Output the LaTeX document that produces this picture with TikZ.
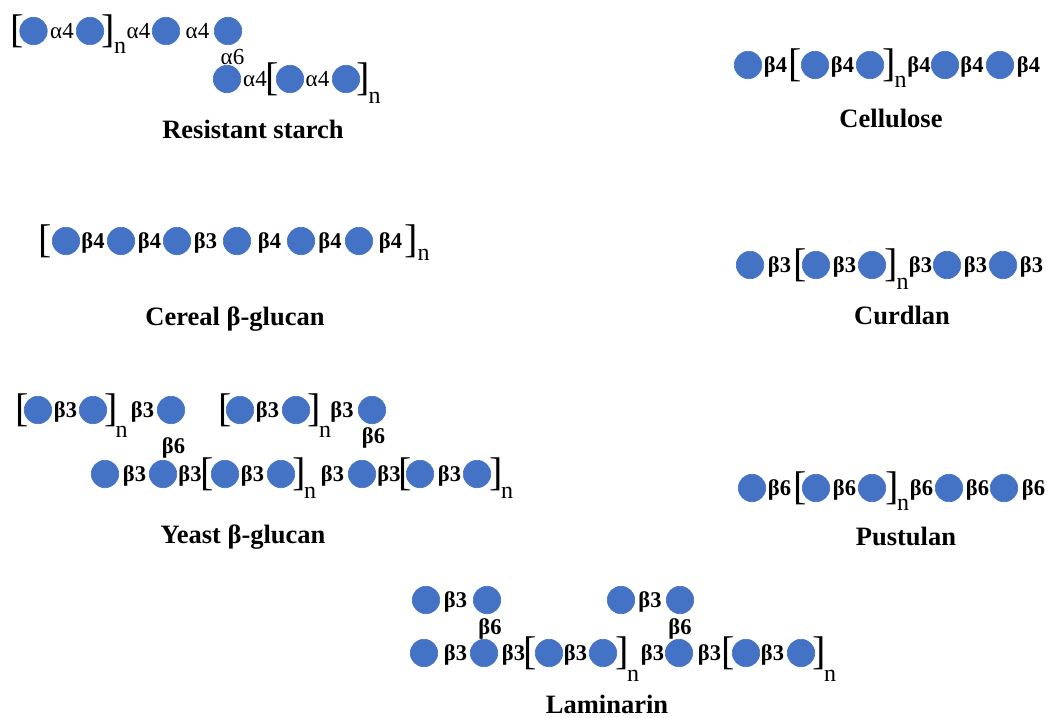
\documentclass[tikz,border=0pt]{standalone}
\usepackage{fontspec}
\setmainfont{Liberation Serif}
\definecolor{gblue}{HTML}{4472C4}
\tikzset{
 gl/.style={circle, fill=gblue, draw=gblue, line width=0.6pt, minimum size=27.5pt, inner sep=0pt},
 lb/.style={font=\fontsize{22.5}{22.5}\selectfont\bfseries, inner sep=0pt, anchor=base},
 la/.style={font=\fontsize{23}{23}\selectfont, inner sep=0pt, anchor=base},
 brk/.style={font=\fontsize{40}{40}\selectfont, inner sep=0pt, anchor=center},
 nsub/.style={font=\fontsize{24}{24}\selectfont, inner sep=0pt, anchor=base},
 ttl/.style={font=\fontsize{26.5}{26.5}\selectfont\bfseries, inner sep=0pt, anchor=base},
}
\newcommand\gcirc[3]{\node[gl] (#1) at (#2,#3) {};}
\newcommand\blab[4]{\node[lb] (#1) at (#2,#3) {#4};}
\newcommand\alab[4]{\node[la] (#1) at (#2,#3) {#4};}
\newcommand\lbr[3]{\node[brk] (#1) at (#2,#3) {[};}
\newcommand\rbr[3]{\node[brk] (#1) at (#2,#3) {]};}
\newcommand\nsb[3]{\node[nsub] (#1) at (#2,#3) {n};}
\begin{document}
\begin{tikzpicture}[x=1pt,y=-1pt]
\useasboundingbox (0,0) rectangle (1048,717);
% ---------- Resistant starch ----------
\lbr{rsb1}{17.5}{31}
\gcirc{rs1}{33.5}{31}
\alab{rsl1}{62}{38}{α4}
\gcirc{rs2}{90}{31}
\rbr{rsb2}{108}{31}
\nsb{rsn1}{120}{53}
\alab{rsl2}{138.5}{38}{α4}
\gcirc{rs3}{166}{31}
\alab{rsl3}{197.5}{38}{α4}
\gcirc{rs4}{228}{31}
\alab{rsl4}{232.5}{64}{α6}
\gcirc{rs5}{227}{79}
\alab{rsl5}{255}{86}{α4}
\lbr{rsb3}{272}{79}
\gcirc{rs6}{290}{79}
\alab{rsl6}{317.5}{86}{α4}
\gcirc{rs7}{346}{79}
\rbr{rsb4}{363.5}{79}
\nsb{rsn2}{374.5}{103}
\node[ttl] (rst) at (253,138) {Resistant starch};
% ---------- Cellulose ----------
\gcirc{ce1}{748}{65}
\blab{cel1}{775.5}{72}{β4}
\lbr{ceb1}{795.5}{65}
\gcirc{ce2}{815}{65}
\blab{cel2}{842.5}{72}{β4}
\gcirc{ce3}{870}{65}
\rbr{ceb2}{889.5}{65}
\nsb{cen1}{900.5}{87}
\blab{cel3}{919}{72}{β4}
\gcirc{ce4}{945}{65}
\blab{cel4}{972}{72}{β4}
\gcirc{ce5}{1000}{65}
\blab{cel5}{1028.5}{72}{β4}
\node[ttl] (cet) at (891,127) {Cellulose};
% ---------- Cereal beta-glucan ----------
\lbr{cgb1}{45}{241}
\gcirc{cg1}{66}{241}
\blab{cgl1}{93}{248}{β4}
\gcirc{cg2}{121}{241}
\blab{cgl2}{149.5}{248}{β4}
\gcirc{cg3}{177}{241}
\blab{cgl3}{205.5}{248}{β3}
\gcirc{cg4}{237}{241}
\blab{cgl4}{269.5}{248}{β4}
\gcirc{cg5}{301}{241}
\blab{cgl5}{330}{248}{β4}
\gcirc{cg6}{359}{241}
\blab{cgl6}{390.5}{248}{β4}
\rbr{cgb2}{411.5}{241}
\nsb{cgn1}{423.5}{260}
\node[ttl] (cgt) at (235,325) {Cereal β-glucan};
% ---------- Curdlan ----------
\gcirc{cu1}{750}{265}
\blab{cul1}{779.5}{272}{β3}
\lbr{cub1}{800}{265}
\gcirc{cu2}{816}{265}
\blab{cul2}{844.5}{272}{β3}
\gcirc{cu3}{872}{265}
\rbr{cub2}{891}{265}
\nsb{cun1}{902.5}{289}
\blab{cul3}{920.5}{272}{β3}
\gcirc{cu4}{947}{265}
\blab{cul4}{975.5}{272}{β3}
\gcirc{cu5}{1003}{265}
\blab{cul5}{1031.5}{272}{β3}
\node[ttl] (cut) at (902,324) {Curdlan};
% ---------- Pustulan ----------
\gcirc{pu1}{752}{488}
\blab{pul1}{779.5}{495}{β6}
\lbr{pub1}{800}{488}
\gcirc{pu2}{816}{488}
\blab{pul2}{844.5}{495}{β6}
\gcirc{pu3}{872}{488}
\rbr{pub2}{892}{488}
\nsb{pun1}{903}{510}
\blab{pul3}{921.5}{495}{β6}
\gcirc{pu4}{949}{488}
\blab{pul4}{977.5}{495}{β6}
\gcirc{pu5}{1004}{488}
\blab{pul5}{1033.5}{495}{β6}
\node[ttl] (put) at (906,545) {Pustulan};
% ---------- Yeast beta-glucan ----------
\lbr{yb1}{22}{410}
\gcirc{y1}{38}{410}
\blab{yl1}{65.5}{417}{β3}
\gcirc{y2}{93}{410}
\rbr{yb2}{111}{410}
\nsb{yn1}{121.5}{437}
\blab{yl2}{142.5}{417}{β3}
\gcirc{y3}{171}{410}
\lbr{yb3}{225}{410}
\gcirc{y4}{240}{410}
\blab{yl3}{267.5}{417}{β3}
\gcirc{y5}{296}{410}
\rbr{yb4}{314}{410}
\nsb{yn2}{325}{437}
\blab{yl4}{342}{417}{β3}
\gcirc{y6}{372}{410}
\blab{yl5}{173.5}{453}{β6}
\blab{yl6}{373.5}{443}{β6}
\gcirc{y7}{105}{474}
\blab{yl7}{134.5}{481}{β3}
\gcirc{y8}{163}{474}
\blab{yl8}{190}{481}{β3}
\lbr{yb5}{207}{474}
\gcirc{y9}{225}{474}
\blab{yl9}{252.5}{481}{β3}
\gcirc{y10}{281}{474}
\rbr{yb6}{299}{474}
\nsb{yn3}{310}{498}
\blab{yl10}{332.5}{481}{β3}
\gcirc{y11}{362}{474}
\blab{yl11}{389}{481}{β3}
\lbr{yb7}{405}{474}
\gcirc{y12}{420}{474}
\blab{yl12}{449.5}{481}{β3}
\gcirc{y13}{477}{474}
\rbr{yb8}{496}{474}
\nsb{yn4}{507}{498}
\node[ttl] (yt) at (243,543) {Yeast β-glucan};
% ---------- Laminarin ----------
\gcirc{la1}{426}{600}
\blab{lal1}{455.5}{607}{β3}
\gcirc{la2}{487}{600}
\gcirc{la3}{621}{600}
\blab{lal2}{650}{607}{β3}
\gcirc{la4}{680}{600}
\blab{lal3}{490}{634}{β6}
\blab{lal4}{680}{634}{β6}
\gcirc{la5}{424}{653}
\blab{lal5}{455.5}{660}{β3}
\gcirc{la6}{484}{653}
\blab{lal6}{513.5}{660}{β3}
\lbr{lab1}{530}{653}
\gcirc{la7}{549}{653}
\blab{lal7}{575.5}{660}{β3}
\gcirc{la8}{603}{653}
\rbr{lab2}{622}{653}
\nsb{lan1}{633}{681}
\blab{lal8}{652.5}{660}{β3}
\gcirc{la9}{679}{653}
\blab{lal9}{709.5}{660}{β3}
\lbr{lab3}{728}{653}
\gcirc{la10}{746}{653}
\blab{lal10}{772.5}{660}{β3}
\gcirc{la11}{801}{653}
\rbr{lab4}{819}{653}
\nsb{lan2}{830}{681}
\node[ttl] (lat) at (607,713) {Laminarin};
\end{tikzpicture}
\end{document}
